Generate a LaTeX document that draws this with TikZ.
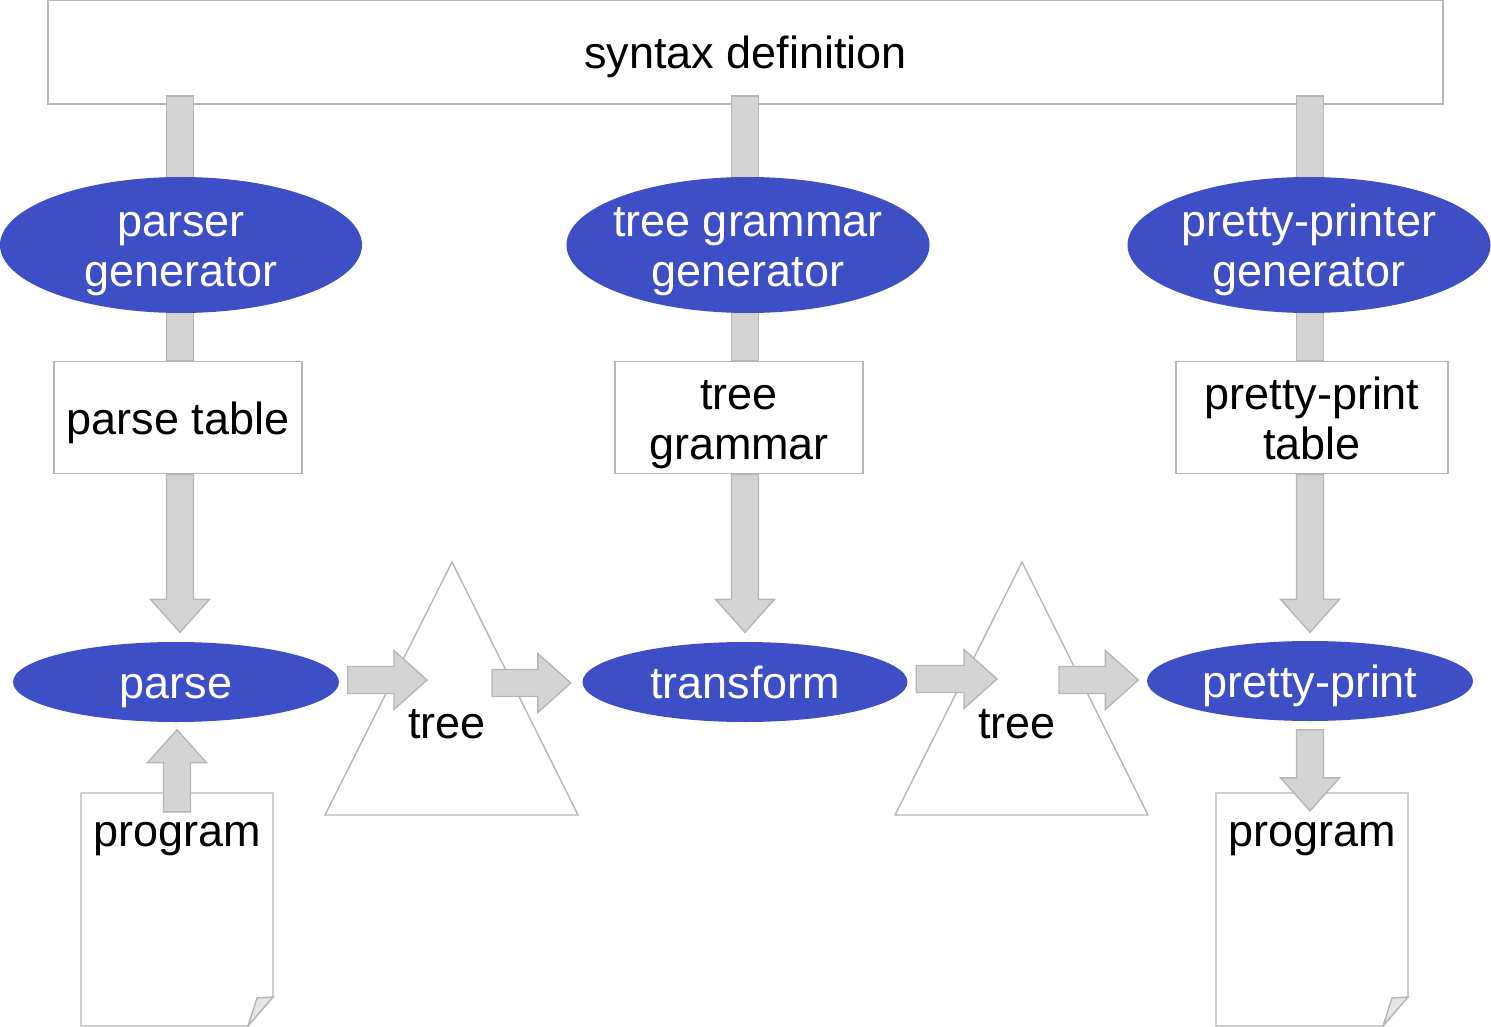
\documentclass[tikz,border=0pt]{standalone}
\usepackage{fontspec}
\setmainfont{Liberation Sans}
\usetikzlibrary{calc,positioning,shapes.geometric}

\definecolor{toolblue}{RGB}{62,78,196}
\definecolor{arrowgray}{RGB}{212,212,212}
\definecolor{linegray}{RGB}{182,182,182}
\definecolor{foldgray}{RGB}{230,230,230}

% fat block arrow from #1 (tail) to #2 (tip)
\newcommand\fatarrow[2]{%
  \coordinate (neck) at ($#2!3.3mm!#1$);
  \draw[fatshape] ($#1!1.35mm!90:#2$) -- ($(neck)!1.35mm!-90:#1$)
    -- ($(neck)!2.95mm!-90:#1$) -- #2 -- ($(neck)!2.95mm!90:#1$)
    -- ($(neck)!1.35mm!90:#1$) -- ($#1!1.35mm!-90:#2$) -- cycle;}
% fat bar without a head
\newcommand\fatbar[2]{%
  \draw[fatshape] ($#1!1.35mm!90:#2$) -- ($#2!1.35mm!-90:#1$)
    -- ($#2!1.35mm!90:#1$) -- ($#1!1.35mm!-90:#2$) -- cycle;}

\begin{document}
\begin{tikzpicture}[x=0.1mm, y=-0.1mm, font=\fontsize{12.8}{14.2}\selectfont,
    box/.style={draw=linegray, fill=white, align=center, inner sep=0pt},
    tool/.style={ellipse, fill=toolblue, text=white, align=center, inner sep=0pt},
    oneline/.style={text height=9.3pt, text depth=0pt},
    twoline/.style={text height=23.5pt, text depth=0pt},
    fatshape/.style={draw=linegray, fill=arrowgray},
    outline/.style={draw=linegray}]
  \useasboundingbox (0,0) rectangle (1491,1027);

  % syntax definition
  \node (syn) [box, oneline, minimum width=139.5mm, minimum height=10.4mm] at (745.5,52) {syntax definition};

  % feeds down to the tables
  \coordinate (c1) at (180,96);
  \coordinate (c2) at (745,96);
  \coordinate (c3) at (1310,96);
  \coordinate (c1b) at (180,361);
  \coordinate (c2b) at (745,361);
  \coordinate (c3b) at (1310,361);
  \fatbar{(c1)}{(c1b)}
  \fatbar{(c2)}{(c2b)}
  \fatbar{(c3)}{(c3b)}

  % generators
  \node (pgen) [tool, twoline, minimum width=36.2mm, minimum height=13.6mm] at (181,245) {parser\\generator};
  \node (tggen) [tool, twoline, inner xsep=-0.7mm, minimum width=36.3mm, minimum height=13.6mm] at (748,245) {tree grammar\\generator};
  \node (ppgen) [tool, twoline, minimum width=36.3mm, minimum height=13.6mm] at (1309,245) {pretty-printer\\generator};

  % tables
  \node (ptab) [box, oneline, minimum width=24.8mm, minimum height=11.2mm, below=0pt of c1b, xshift=-0.2mm] {parse table};
  \node (tgram) [box, twoline, minimum width=24.8mm, minimum height=11.2mm, below=0pt of c2b, xshift=-0.6mm] {tree\\grammar};
  \node (pptab) [box, twoline, minimum width=27.2mm, minimum height=11.2mm, below=0pt of c3b, xshift=0.2mm] {pretty-print\\table};

  % tools
  \node (parse) [tool, oneline, minimum width=32.6mm, minimum height=8mm] at (176,682) {parse};
  \node (trans) [tool, oneline, minimum width=32.5mm, minimum height=8mm] at (745,682) {transform};
  \node (ppr) [tool, oneline, minimum width=32.6mm, minimum height=8mm] at (1310,681) {pretty-print};

  % tables into tools
  \coordinate (c1t) at ($(c1 |- parse.north)+(0,-9)$);
  \coordinate (c2t) at ($(c2 |- trans.north)+(0,-9)$);
  \coordinate (c3t) at ($(c3 |- ppr.north)+(0,-8)$);
  \fatarrow{(c1 |- ptab.south)}{(c1t)}
  \fatarrow{(c2 |- tgram.south)}{(c2t)}
  \fatarrow{(c3 |- pptab.south)}{(c3t)}

  % trees
  \draw[outline] (452,562) -- (578,815) -- (325,815) -- cycle;
  \node (tree1) at (447,724) {tree};
  \draw[outline] (1022,562) -- (1148,815) -- (895,815) -- cycle;
  \node (tree2) at (1017,724) {tree};

  \coordinate (p-out) at ($(parse.east)+(8,-2)$);
  \coordinate (t1in) at (427,680);
  \coordinate (t1out) at (492,683);
  \coordinate (tr-in) at ($(trans.west)+(-11,1)$);
  \coordinate (tr-out) at ($(trans.east)+(8,-3)$);
  \coordinate (t2in) at (997,679);
  \coordinate (t2out) at (1059,680);
  \coordinate (pp-in) at ($(ppr.west)+(-8,-1)$);
  \fatarrow{(p-out)}{(t1in)}
  \fatarrow{(t1out)}{(tr-in)}
  \fatarrow{(tr-out)}{(t2in)}
  \fatarrow{(t2out)}{(pp-in)}

  % programs
  \draw[outline, fill=white] (81,793) -- (273,793) -- (273,997) -- (248,1026) -- (81,1026) -- cycle;
  \filldraw[outline, fill=foldgray] (248,1026) -- (257,998) -- (273,997) -- cycle;
  \node (lprog) at (177,839) {program};
  \draw[outline, fill=white] (1216,793) -- (1408,793) -- (1408,997) -- (1383,1026) -- (1216,1026) -- cycle;
  \filldraw[outline, fill=foldgray] (1383,1026) -- (1392,998) -- (1408,997) -- cycle;
  \node (rprog) at (1312,839) {program};

  \coordinate (lp-out) at ($(lprog.north)+(0,2)$);
  \coordinate (parse-in) at ($(lprog.north |- parse.south)+(0,7)$);
  \coordinate (ppr-out) at ($(ppr.south)+(0,8)$);
  \coordinate (rp-in) at ($(ppr.south |- rprog.north)+(0,1)$);
  \fatarrow{(lp-out)}{(parse-in)}
  \fatarrow{(ppr-out)}{(rp-in)}
\end{tikzpicture}
\end{document}
